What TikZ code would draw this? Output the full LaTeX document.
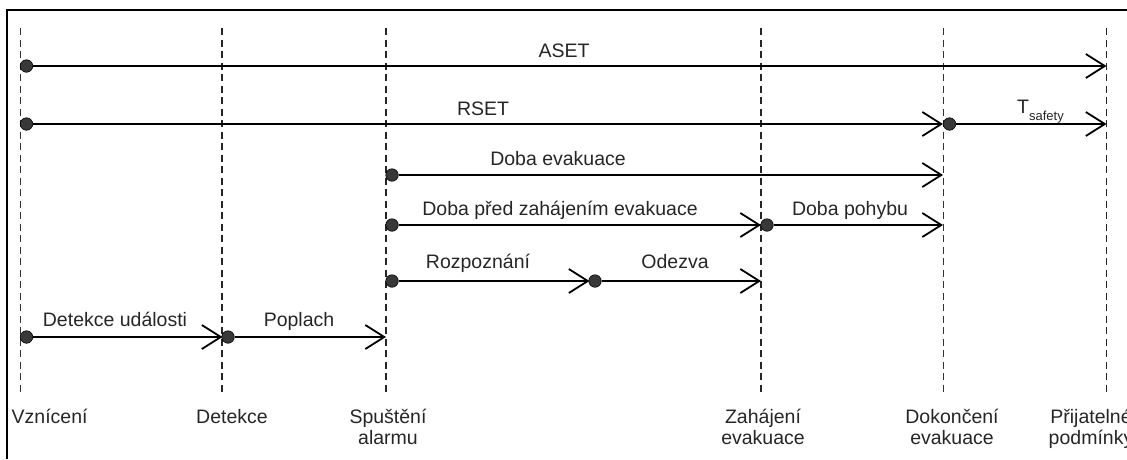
\documentclass[tikz,border=0pt]{standalone}
\usepackage{fontspec}
\setmainfont{Liberation Sans}
\usetikzlibrary{arrows.meta}
\begin{document}
\begin{tikzpicture}[x=1pt,y=-1pt,
  lbl/.style={font=\fontsize{19.5}{20}\selectfont, anchor=base, inner sep=0pt, text=black!85},
  blbl/.style={font=\fontsize{19.5}{21.5}\selectfont, anchor=base, inner sep=0pt, align=center, text=black!85},
  dot/.style={circle, fill=black!78, draw=black, line width=0.6pt, minimum size=12.5pt, inner sep=0pt},
  arr/.style={line width=1.8pt, -{Straight Barb[length=19pt,width=24pt,line width=1.8pt]}},
  thinv/.style={line width=1pt, dash pattern=on 7pt off 4.5pt, black!80},
  thickv/.style={line width=1.7pt, dash pattern=on 7pt off 4.5pt, black!85},
  frame/.style={line width=2pt, black}]
\useasboundingbox (0,0) rectangle (1127,459);
% frame
\draw[frame] (1127,10) -- (6.5,10) -- (6.5,459);
% vertical time lines
\coordinate (t1) at (20.7,28);  \coordinate (b1) at (20.7,392);
\coordinate (t2) at (222,28);   \coordinate (b2) at (222,392);
\coordinate (t3) at (386,28);   \coordinate (b3) at (386,392);
\coordinate (t4) at (761,28);   \coordinate (b4) at (761,392);
\coordinate (t5) at (943,28);   \coordinate (b5) at (943,392);
\coordinate (t6) at (1106.5,28);\coordinate (b6) at (1106.5,392);
\draw[thinv] (t1) -- (b1);
\draw[thickv] (t2) -- (b2);
\draw[thickv] (t3) -- (b3);
\draw[thickv] (t4) -- (b4);
\draw[thinv] (t5) -- (b5);
\draw[thickv] (t6) -- (b6);
% ASET
\node[dot] (aS) at (26.5,66) {};
\coordinate (aE) at (1106.5,66);
\draw[arr, line width=2.4pt] (aS) -- (aE);
\node[lbl] (aL) at (564,57) {ASET};
% RSET
\node[dot] (rS) at (26.5,124) {};
\coordinate (rE) at (943,124);
\draw[arr, line width=1.5pt] (rS) -- (rE);
\node[lbl] (rL) at (483,115) {RSET};
\node[dot] (sS) at (949.5,124) {};
\coordinate (sE) at (1106.5,124);
\draw[arr, line width=1.5pt] (sS) -- (sE);
\node[lbl, anchor=base west] (sL) at (1017,113) {T\raisebox{-7pt}{\fontsize{13}{14}\selectfont safety}};
% Doba evakuace
\node[dot] (eS) at (392,175) {};
\coordinate (eE) at (943,175);
\draw[arr, line width=1.3pt] (eS) -- (eE);
\node[lbl] (eL) at (558,165) {Doba evakuace};
% Doba pred zahajenim
\node[dot] (pS) at (392,225) {};
\coordinate (pE) at (761,225);
\draw[arr] (pS) -- (pE);
\node[lbl] (pL) at (560,215) {Doba před zahájením evakuace};
\node[dot] (mS) at (767,225) {};
\coordinate (mE) at (943,225);
\draw[arr] (mS) -- (mE);
\node[lbl] (mL) at (850,215) {Doba pohybu};
% Rozpoznani / Odezva
\node[dot] (zS) at (392,281) {};
\node[dot] (oS) at (595,281) {};
\coordinate (oE) at (761,281);
\draw[arr] (zS) -- ([xshift=-5.5pt]oS.center);
\draw[arr] (oS) -- (oE);
\node[lbl] (zL) at (478,268) {Rozpoznání};
\node[lbl] (oL) at (675,268) {Odezva};
% Detekce udalosti / Poplach
\node[dot] (dS) at (26.5,337) {};
\node[dot] (qS) at (228,337) {};
\coordinate (qE) at (386,337);
\draw[arr] (dS) -- ([xshift=-5.5pt]qS.center);
\draw[arr] (qS) -- (qE);
\node[lbl] (dL) at (115,326) {Detekce události};
\node[lbl] (qL) at (299,326) {Poplach};
% bottom labels
\node[blbl, anchor=base west] (l1) at (11.5,423) {Vznícení};
\node[blbl] (l2) at (232,423) {Detekce};
\node[blbl, anchor=north] (l3) at (388,408.5) {Spuštění\\alarmu};
\node[blbl, anchor=north] (l4) at (763,408.5) {Zahájení\\evakuace};
\node[blbl, anchor=north] (l5) at (952,408.5) {Dokončení\\evakuace};
\node[blbl, anchor=north] (l6) at (1091,408.5) {Přijatelné\\podmínky};
\end{tikzpicture}
\end{document}
